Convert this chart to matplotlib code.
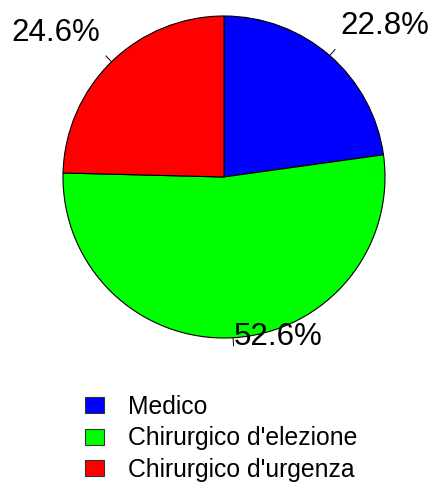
import matplotlib.pyplot as plt
import numpy as np
from matplotlib.patches import Patch

categories = ["Medico", "Chirurgico d'elezione", "Chirurgico d'urgenza"]
shares = [22.8, 52.6, 24.6]
colors = ["#0000ff", "#00ff00", "#ff0000"]

plt.rcParams["font.family"] = ["Liberation Sans", "DejaVu Sans"]

W, H = 429, 483
fig = plt.figure(figsize=(W / 100, H / 100), dpi=100)
ax = fig.add_axes([0, 0, 1, 1])

# work in pixel units so the pie is placed exactly
cx, cy, r = 224, H - 177, 161
wedges, _ = ax.pie(shares, colors=colors, startangle=90, counterclock=False,
                   center=(cx, cy), radius=r,
                   wedgeprops=dict(edgecolor="black", linewidth=0.8))

for w, s in zip(wedges, shares):
    mid = np.deg2rad((w.theta1 + w.theta2) / 2)
    dx, dy = np.cos(mid), np.sin(mid)
    ax.plot([cx + r * dx, cx + 1.05 * r * dx], [cy + r * dy, cy + 1.05 * r * dy],
            color="black", lw=0.7)
    ax.text(cx + 1.1 * r * dx, cy + 1.1 * r * dy + 2, f"{s}%", fontsize=22.5,
            ha="left" if dx > 0 else "right", va="bottom")

ax.set_xlim(0, W)
ax.set_ylim(0, H)
ax.set_aspect("equal")
ax.axis("off")

handles = [Patch(facecolor=c, edgecolor="#333333", linewidth=0.8) for c in colors]
fig.legend(handles, categories, loc="upper left",
           bbox_to_anchor=(85 / W, 1 - 395 / H), frameon=False, fontsize=17.8,
           handlelength=0.78, handleheight=0.62, handletextpad=0.95,
           labelspacing=0.3, borderpad=0, borderaxespad=0)

fig.savefig("out.png", dpi=100)
